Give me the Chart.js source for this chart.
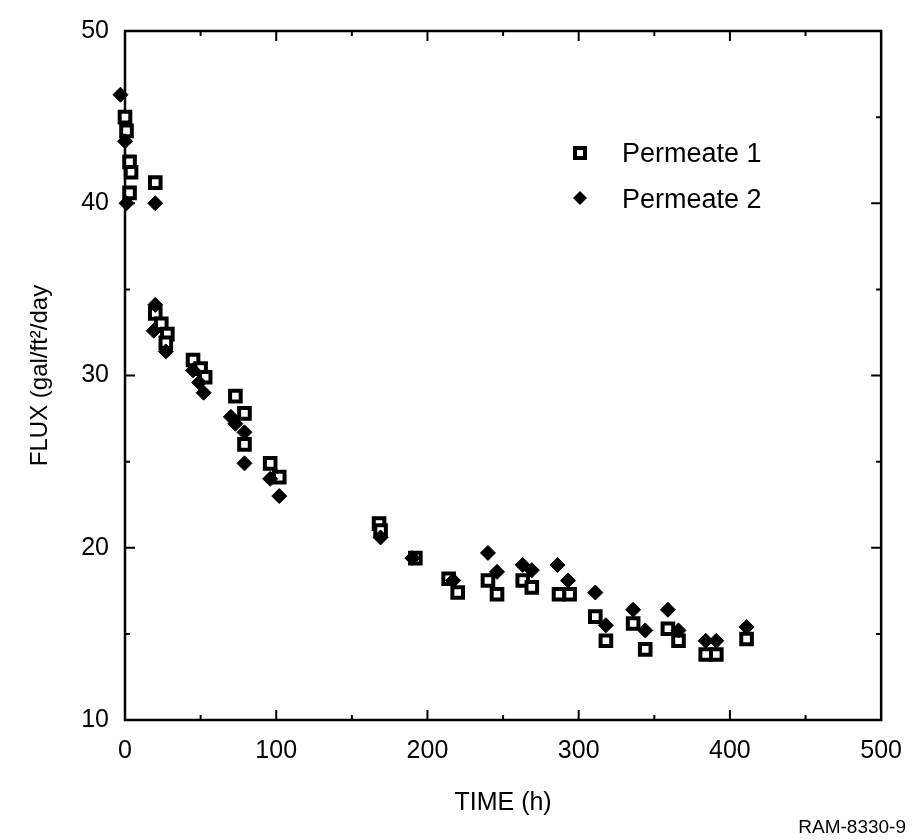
<!DOCTYPE html>
<html>
<head>
<meta charset="utf-8">
<title>Flux vs time</title>
<script src="https://cdn.jsdelivr.net/npm/chart.js@4/dist/chart.umd.min.js"></script>
<style>
  html, body { margin: 0; padding: 0; background: #fff; }
  canvas { display: block; }
</style>
</head>
<body>
<canvas id="fluxChart" width="918" height="840"></canvas>
<script>
// Permeate 1 (open squares)
const time1 = [0, 1, 3, 4, 3, 20,
  20, 24, 28, 27,
  45, 50, 53,
  73, 79, 79, 96, 102,
  168, 169, 192,
  214, 220, 240, 246, 263, 269, 287, 294,
  311, 318, 336, 344, 359, 366, 384, 391, 411];
const flux1 = [45.0, 44.2, 42.4, 41.8, 40.6, 41.2,
  33.6, 33.0, 32.4, 31.9,
  30.9, 30.4, 29.9,
  28.8, 27.8, 26.0, 24.9, 24.1,
  21.4, 21.0, 19.4,
  18.2, 17.4, 18.1, 17.3, 18.1, 17.7, 17.3, 17.3,
  16.0, 14.6, 15.6, 14.1, 15.3, 14.6, 13.8, 13.8, 14.7];

// Permeate 2 (filled diamonds)
const time2 = [-3, 0, 1, 20,
  20, 19, 27,
  45, 49, 52,
  70, 73, 79, 79, 96, 102,
  169, 190, 217,
  240, 246, 263, 269, 286, 293,
  311, 318, 336, 344, 359, 366, 384, 391, 411];
const flux2 = [46.3, 43.6, 40.0, 40.0,
  34.1, 32.6, 31.4,
  30.3, 29.6, 29.0,
  27.6, 27.2, 26.7, 24.9, 24.0, 23.0,
  20.6, 19.4, 18.1,
  19.7, 18.6, 19.0, 18.7, 19.0, 18.1,
  17.4, 15.5, 16.4, 15.2, 16.4, 15.2, 14.6, 14.6, 15.4];

const seriesNames = ['Permeate 1', 'Permeate 2'];
const xTitle = 'TIME (h)';
const yTitle = 'FLUX (gal/ft\u00B2/day';
const figureNote = 'RAM-8330-9';

const FONT = '"Liberation Sans", Arial, Helvetica, sans-serif';

const toPoints = (xs, ys) => xs.map((x, i) => ({ x: x, y: ys[i] }));

// frame box with inward ticks on all four sides
const framePlugin = {
    id: 'frame',
    beforeDatasetsDraw(chart) {
        const { ctx, chartArea: a, scales } = chart;
        ctx.save();
        ctx.strokeStyle = '#000';
        ctx.lineWidth = 2.5;
        ctx.strokeRect(a.left, a.top, a.right - a.left, a.bottom - a.top);
        ctx.lineWidth = 2;
        ctx.beginPath();
        for (let v = 50; v < 500; v += 50) {
            const px = scales.x.getPixelForValue(v);
            const len = v % 100 === 0 ? 10 : 5;
            ctx.moveTo(px, a.bottom); ctx.lineTo(px, a.bottom - len);
            ctx.moveTo(px, a.top); ctx.lineTo(px, a.top + len);
        }
        for (let v = 15; v < 50; v += 5) {
            const py = scales.y.getPixelForValue(v);
            const len = v % 10 === 0 ? 10 : 5;
            ctx.moveTo(a.left, py); ctx.lineTo(a.left + len, py);
            ctx.moveTo(a.right, py); ctx.lineTo(a.right - len, py);
        }
        ctx.stroke();
        ctx.restore();
    },
    afterDraw(chart) {
        const ctx = chart.ctx;
        ctx.save();
        ctx.fillStyle = '#000';
        ctx.font = '19px ' + FONT;
        ctx.textAlign = 'right';
        ctx.textBaseline = 'middle';
        ctx.fillText(figureNote, 906, 828);
        ctx.restore();
    }
};

// legend drawn inside the plot, upper right
const legendPlugin = {
    id: 'innerLegend',
    afterDatasetsDraw(chart) {
        const ctx = chart.ctx;
        ctx.save();
        ctx.fillStyle = '#000';
        ctx.strokeStyle = '#000';
        // square marker
        ctx.lineWidth = 4;
        ctx.strokeRect(575, 148, 10, 10);
        // diamond marker
        ctx.beginPath();
        ctx.moveTo(580, 191); ctx.lineTo(587, 198); ctx.lineTo(580, 205); ctx.lineTo(573, 198);
        ctx.closePath();
        ctx.fill();
        ctx.font = '27px ' + FONT;
        ctx.textAlign = 'left';
        ctx.textBaseline = 'middle';
        ctx.fillText(seriesNames[0], 622, 155);
        ctx.fillText(seriesNames[1], 622, 201);
        ctx.restore();
    }
};

new Chart(document.getElementById('fluxChart').getContext('2d'), {
    type: 'scatter',
    data: {
        datasets: [{
            label: seriesNames[1],
            data: toPoints(time2, flux2),
            pointStyle: 'rectRot',
            pointRadius: 7.5,
            backgroundColor: '#000',
            borderColor: '#000',
            borderWidth: 1,
            clip: false
        }, {
            label: seriesNames[0],
            data: toPoints(time1, flux1),
            pointStyle: 'rect',
            pointRadius: 7.5,
            backgroundColor: '#fff',
            borderColor: '#000',
            borderWidth: 4,
            clip: false
        }]
    },
    options: {
        responsive: false,
        animation: false,
        layout: { padding: { top: 23, right: 36, left: 0, bottom: 0 } },
        plugins: {
            legend: { display: false },
            tooltip: { enabled: false }
        },
        scales: {
            x: {
                type: 'linear',
                min: 0,
                max: 500,
                grid: { display: false, drawTicks: false },
                border: { display: false },
                ticks: {
                    stepSize: 100,
                    padding: 16,
                    color: '#000',
                    font: { family: FONT, size: 25 }
                },
                title: {
                    display: true,
                    text: xTitle,
                    color: '#000',
                    font: { family: FONT, size: 25 },
                    padding: { top: 0, bottom: 22 }
                },
                afterFit(scale) { scale.height = 120; }
            },
            y: {
                type: 'linear',
                min: 10,
                max: 50,
                grid: { display: false, drawTicks: false },
                border: { display: false },
                ticks: {
                    stepSize: 10,
                    padding: 16,
                    color: '#000',
                    font: { family: FONT, size: 25 }
                },
                title: {
                    display: true,
                    text: yTitle,
                    color: '#000',
                    font: { family: FONT, size: 24 },
                    padding: { top: 26, bottom: 0 }
                },
                afterFit(scale) { scale.width = 125; }
            }
        }
    },
    plugins: [framePlugin, legendPlugin]
});
</script>
</body>
</html>
